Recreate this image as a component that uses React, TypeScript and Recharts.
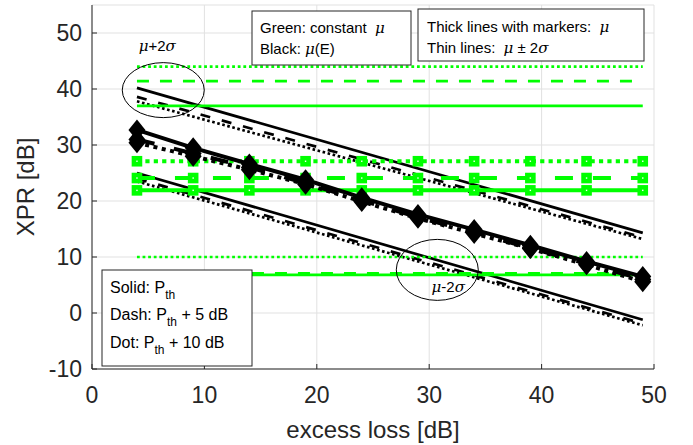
import React from "react";
import { LineChart, Line, XAxis, YAxis, CartesianGrid, ReferenceDot } from "recharts";

const xTicks = [0, 10, 20, 30, 40, 50];
const yTicks = [-10, 0, 10, 20, 30, 40, 50];

const lossMarks = [4, 9, 14, 19, 24, 29, 34, 39, 44, 49];
const lossEnds = [4, 49];

// black: mu(E), thick lines with diamonds
const blackMuSolid = [32.7, 29.5, 26.6, 23.8, 20.6, 17.6, 14.9, 12.1, 9.2, 6.5];
const blackMuDash = [31.0, 28.5, 26.0, 23.2, 20.1, 17.1, 14.4, 11.6, 8.8, 6.0];
const blackMuDot = [30.4, 28.0, 25.6, 23.0, 19.9, 16.9, 14.2, 11.5, 8.6, 5.6];

// black thin: mu +/- 2 sigma
const blackHiSolid = [40.2, 14.3];
const blackHiDash = [38.6, 13.5];
const blackHiDot = [37.8, 13.2];
const blackLoSolid = [25.0, -1.2];
const blackLoDash = [24.0, -1.9];
const blackLoDot = [23.5, -2.2];

// green: constant mu
const greenMuSolid = [21.9, 21.9, 21.9, 21.9, 21.9, 21.9, 21.9, 21.9, 21.9, 21.9];
const greenMuDash = [24.1, 24.1, 24.1, 24.1, 24.1, 24.1, 24.1, 24.1, 24.1, 24.1];
const greenMuDot = [27.1, 27.1, 27.1, 27.1, 27.1, 27.1, 27.1, 27.1, 27.1, 27.1];
const greenHiSolid = [37.0, 37.0];
const greenHiDash = [41.4, 41.4];
const greenHiDot = [44.0, 44.0];
const greenLoSolid = [6.8, 6.8];
const greenLoDash = [7.1, 7.1];
const greenLoDot = [10.0, 10.0];

const pts = (xs: number[], ys: number[]) => xs.map((x, i) => ({ x, y: ys[i] }));

const GREEN = "#00ff00";
const AX = "#262626";
const FONT = "'Liberation Sans', Arial, Helvetica, sans-serif";
const GREEK = "'DejaVu Serif', 'Liberation Serif', serif";

const Diamond = (p: any) => {
  const { cx, cy } = p;
  if (cx == null || cy == null) return <g key={p.index} />;
  return (
    <path
      key={`dm-${p.index}`}
      d={`M${cx},${cy - 10.5}L${cx + 8.5},${cy}L${cx},${cy + 10.5}L${cx - 8.5},${cy}Z`}
      fill="#000"
    />
  );
};

const Square = (p: any) => {
  const { cx, cy } = p;
  if (cx == null || cy == null) return <g key={p.index} />;
  return (
    <rect key={`sq-${p.index}`} x={cx - 3} y={cy - 3} width={6} height={6}
      fill="#fff" stroke={GREEN} strokeWidth={4.6} />
  );
};

const BottomTick = (p: any) => (
  <g>
    <line x1={p.x} x2={p.x} y1={p.y} y2={p.y - 5} stroke={AX} />
    <text x={p.x} y={p.y + 34} textAnchor="middle" fontSize={23} fill={AX} fontFamily={FONT}>
      {p.payload.value}
    </text>
  </g>
);
const TopTick = (p: any) => <line x1={p.x} x2={p.x} y1={p.y} y2={p.y + 5} stroke={AX} />;
const LeftTick = (p: any) => (
  <g>
    <line x1={p.x} x2={p.x + 5} y1={p.y} y2={p.y} stroke={AX} />
    <text x={p.x - 10} y={p.y + 8} textAnchor="end" fontSize={23} fill={AX} fontFamily={FONT}>
      {p.payload.value}
    </text>
  </g>
);
const RightTick = (p: any) => <line x1={p.x} x2={p.x - 5} y1={p.y} y2={p.y} stroke={AX} />;

const Ellipse = (p: any) => (
  <g>
    <ellipse cx={p.cx} cy={p.cy} rx={p.rx} ry={p.ry} fill="none" stroke="#000" strokeWidth={1} />
    <text x={p.cx + p.dx} y={p.cy + p.dy} textAnchor="middle" fontSize={15} fontFamily={FONT}>
      <tspan fontStyle="italic" fontFamily={GREEK}>μ</tspan>
      {p.sign}2
      <tspan fontStyle="italic" fontFamily={GREEK}>σ</tspan>
    </text>
  </g>
);

export default function App() {
  const thin = (ys: number[], color: string, w: number, dash?: string) => (
    <Line data={pts(lossEnds, ys)} dataKey="y" stroke={color} strokeWidth={w}
      strokeDasharray={dash} dot={false} isAnimationActive={false} />
  );
  return (
    <div style={{ position: "absolute", left: 0, top: 0, width: 693, height: 445, background: "#fff" }}>
      <LineChart width={693} height={445} margin={{ top: 5, right: 39, bottom: 0, left: 0 }}>
        <CartesianGrid stroke="#e1e1e1" />
        <XAxis type="number" dataKey="x" domain={[0, 50]} ticks={xTicks} interval={0} height={76}
          tickLine={false} tickSize={0} tickMargin={0} axisLine={{ stroke: AX }} tick={<BottomTick />} allowDataOverflow />
        <XAxis xAxisId="top" orientation="top" type="number" dataKey="x" domain={[0, 50]} ticks={xTicks} interval={0}
          height={0} tickLine={false} tickSize={0} tickMargin={0} axisLine={{ stroke: AX }} tick={<TopTick />} allowDataOverflow />
        <YAxis type="number" domain={[-10, 55]} ticks={yTicks} interval={0} width={92}
          tickLine={false} tickSize={0} tickMargin={0} axisLine={{ stroke: AX }} tick={<LeftTick />} allowDataOverflow />
        <YAxis yAxisId="right" orientation="right" type="number" domain={[-10, 55]} ticks={yTicks} interval={0} width={0}
          tickLine={false} tickSize={0} tickMargin={0} axisLine={{ stroke: AX }} tick={<RightTick />} allowDataOverflow />

        {thin(blackHiSolid, "#000", 2.7)}
        {thin(blackHiDash, "#000", 2.7, "10 12")}
        {thin(blackHiDot, "#000", 2.7, "2.6 2.6")}
        {thin(blackLoSolid, "#000", 2.7)}
        {thin(blackLoDash, "#000", 2.7, "10 12")}
        {thin(blackLoDot, "#000", 2.7, "2.6 2.6")}

        {thin(greenHiSolid, GREEN, 2.7)}
        {thin(greenHiDash, GREEN, 2.7, "12 11")}
        {thin(greenHiDot, GREEN, 2.7, "2.8 2.8")}
        {thin(greenLoSolid, GREEN, 2.7)}
        {thin(greenLoDash, GREEN, 2.7, "12 11")}
        {thin(greenLoDot, GREEN, 2.7, "2.8 2.8")}

        <Line data={pts(lossMarks, greenMuSolid)} dataKey="y" stroke={GREEN} strokeWidth={4} dot={Square} isAnimationActive={false} />
        <Line data={pts(lossMarks, greenMuDash)} dataKey="y" stroke={GREEN} strokeWidth={4} strokeDasharray="18 20" dot={Square} isAnimationActive={false} />
        <Line data={pts(lossMarks, greenMuDot)} dataKey="y" stroke={GREEN} strokeWidth={4} strokeDasharray="4.2 4.2" dot={Square} isAnimationActive={false} />

        <Line data={pts(lossMarks, blackMuDot)} dataKey="y" stroke="#000" strokeWidth={4} strokeDasharray="4 4.5" dot={Diamond} isAnimationActive={false} />
        <Line data={pts(lossMarks, blackMuDash)} dataKey="y" stroke="#000" strokeWidth={4} strokeDasharray="18 20" dot={Diamond} isAnimationActive={false} />
        <Line data={pts(lossMarks, blackMuSolid)} dataKey="y" stroke="#000" strokeWidth={4} dot={Diamond} isAnimationActive={false} />

        <ReferenceDot x={6.34} y={39.8} r={0} ifOverflow="visible"
          shape={(p: any) => <Ellipse {...p} rx={41} ry={27.5} dx={-6} dy={-39} sign="+" />} />
        <ReferenceDot x={30.72} y={7.7} r={0} ifOverflow="visible"
          shape={(p: any) => <Ellipse {...p} rx={41} ry={30.5} dx={11} dy={22} sign="-" />} />
      </LineChart>

      <svg width={693} height={445} style={{ position: "absolute", left: 0, top: 0, pointerEvents: "none" }}
        fontFamily={FONT}>
        <rect x={252} y={11} width={159} height={54} fill="#fff" stroke={AX} />
        <text x={260} y={33} fontSize={15}>
          Green: constant <tspan fontStyle="italic" fontFamily={GREEK} dx={4}>μ</tspan>
        </text>
        <text x={260} y={54} fontSize={15}>
          Black: <tspan fontStyle="italic" fontFamily={GREEK}>μ</tspan>(E)
        </text>

        <rect x={418} y={9} width={226} height={52} fill="#fff" stroke={AX} />
        <text x={427} y={32} fontSize={15}>
          Thick lines with markers: <tspan fontStyle="italic" fontFamily={GREEK} dx={4}>μ</tspan>
        </text>
        <text x={427} y={53} fontSize={15}>
          Thin lines: <tspan fontStyle="italic" fontFamily={GREEK} dx={4}>μ</tspan> ± 2
          <tspan fontStyle="italic" fontFamily={GREEK}>σ</tspan>
        </text>

        <rect x={102} y={270} width={150} height={96} fill="#fff" stroke={AX} />
        <text x={110} y={293} fontSize={16}>
          Solid: P<tspan fontSize={12} dy={6}>th</tspan>
        </text>
        <text x={110} y={320} fontSize={16}>
          Dash: P<tspan fontSize={12} dy={6}>th</tspan><tspan dy={-6}> + 5 dB</tspan>
        </text>
        <text x={110} y={348} fontSize={16}>
          Dot: P<tspan fontSize={12} dy={6}>th</tspan><tspan dy={-6}> + 10 dB</tspan>
        </text>

        <text x={373} y={438} textAnchor="middle" fontSize={24} fill={AX}>excess loss [dB]</text>
        <text x={0} y={0} transform="translate(34,187) rotate(-90)" textAnchor="middle" fontSize={24} fill={AX}>
          XPR [dB]
        </text>
      </svg>
    </div>
  );
}
